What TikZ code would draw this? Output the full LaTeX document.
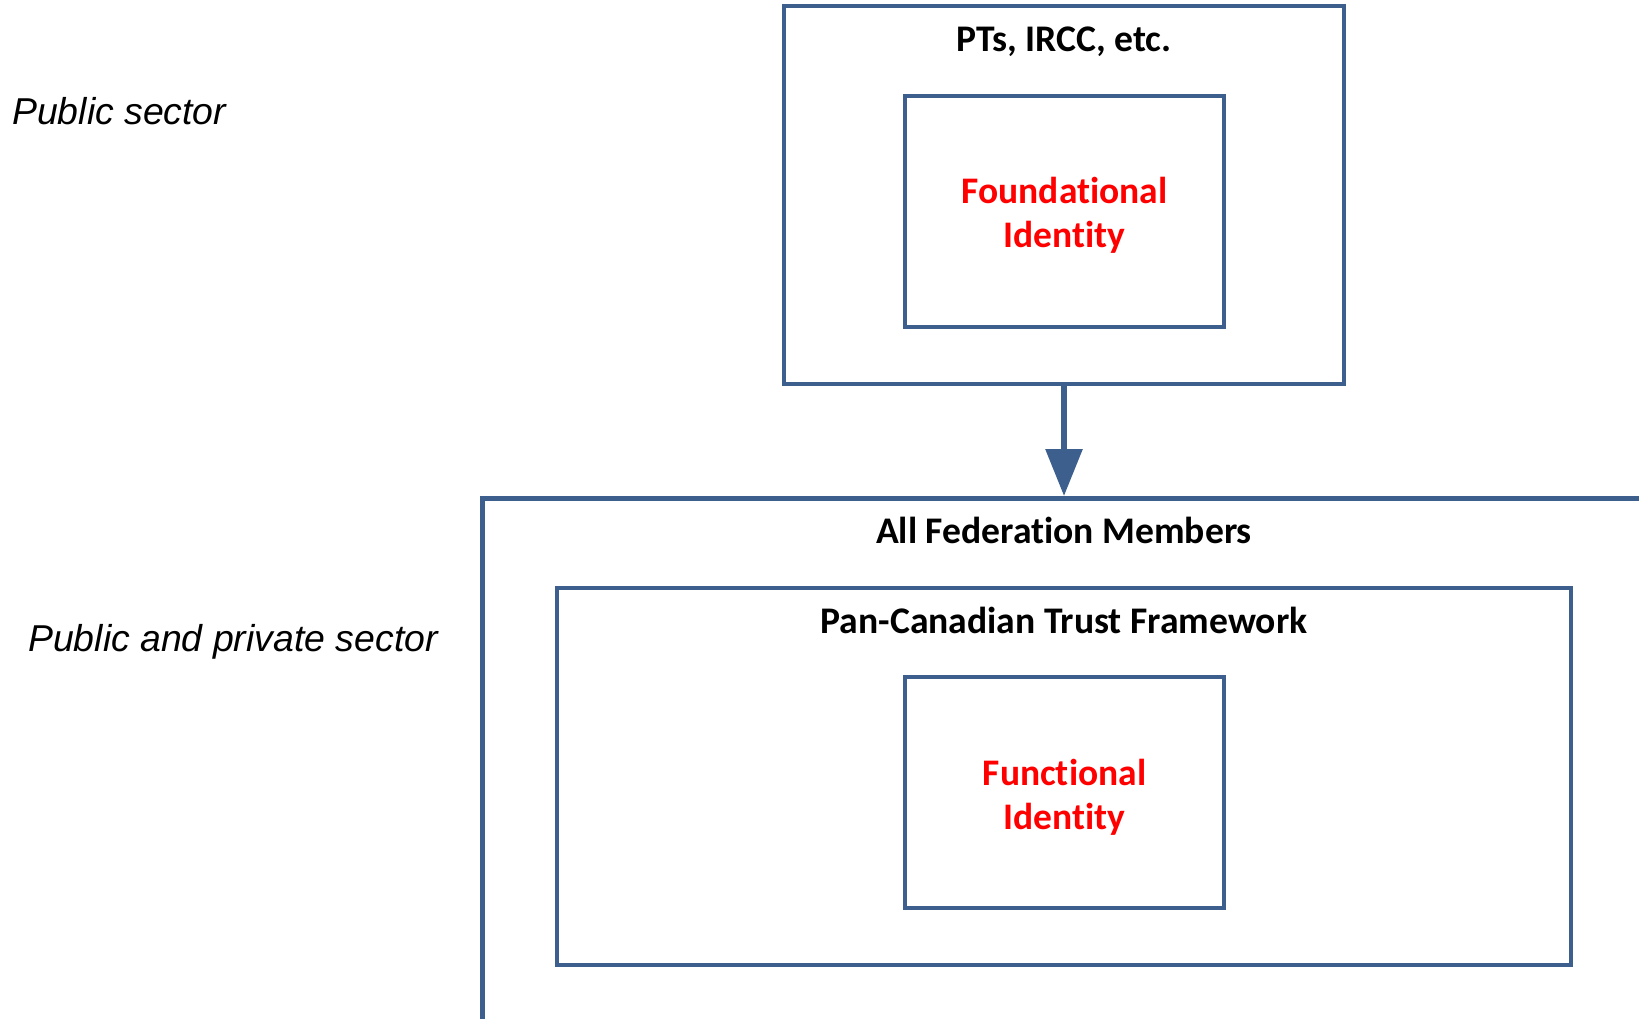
\documentclass[tikz,border=0pt]{standalone}
\usepackage{fontspec}
\setmainfont{Carlito}[Ligatures=NoCommon]
\newfontfamily\arialfont{Liberation Sans}
\usetikzlibrary{arrows.meta}
\definecolor{frameblue}{RGB}{60,95,141}
\definecolor{idred}{RGB}{255,0,0}
\tikzset{
  frame/.style={draw=frameblue, line width=4.5pt, rectangle, inner sep=0pt},
  heading/.style={font=\fontsize{37.6}{44}\selectfont\bfseries, text=black, inner sep=0pt},
  idtext/.style={font=\fontsize{37.5}{44}\selectfont\bfseries, text=idred, align=center, inner sep=0pt},
  sector/.style={font=\arialfont\itshape\fontsize{37.4}{44}\selectfont, anchor=west, inner sep=0pt},
}
\begin{document}
\begin{tikzpicture}[x=1pt,y=-1pt]
\useasboundingbox (0,0) rectangle (1639,1019);
\clip (0,0) rectangle (1639,1019);

% public-sector provider
\node[frame, minimum width=560pt, minimum height=378pt] (top) at (1064,195) {};
\node[heading] (toplbl) at (1064,42) {PTs, IRCC, etc.};
\node[frame, minimum width=319pt, minimum height=231pt] (found) at (1064.5,211.5) {};
\node[idtext] (foundlbl) at (1064.5,215) {Foundational\\Identity};

% federation members (runs off the page)
\node[frame, minimum width=1400pt, minimum height=800pt, anchor=north west] (members) at (480,496) {};
\node[heading] (memlbl) at (1064,530) {All Federation Members};
\node[frame, minimum width=1014pt, minimum height=377pt] (pctf) at (1064,776.5) {};
\node[heading] (pctflbl) at (1064,620) {Pan-Canadian Trust Framework};
\node[frame, minimum width=319pt, minimum height=231pt] (func) at (1064.5,792.5) {};
\node[idtext] (funclbl) at (1064.5,797) {Functional\\Identity};

% sector labels
\node[sector] (pub) at (12,111) {Public sector};
\node[sector] (pubpriv) at (28,642) {Public and private sector};

% flow from foundational to functional identity
\draw[draw=frameblue, line width=6pt, -{Triangle[width=36pt,length=47pt]}]
  (top.south) -- (top.south |- members.north);
\end{tikzpicture}
\end{document}
